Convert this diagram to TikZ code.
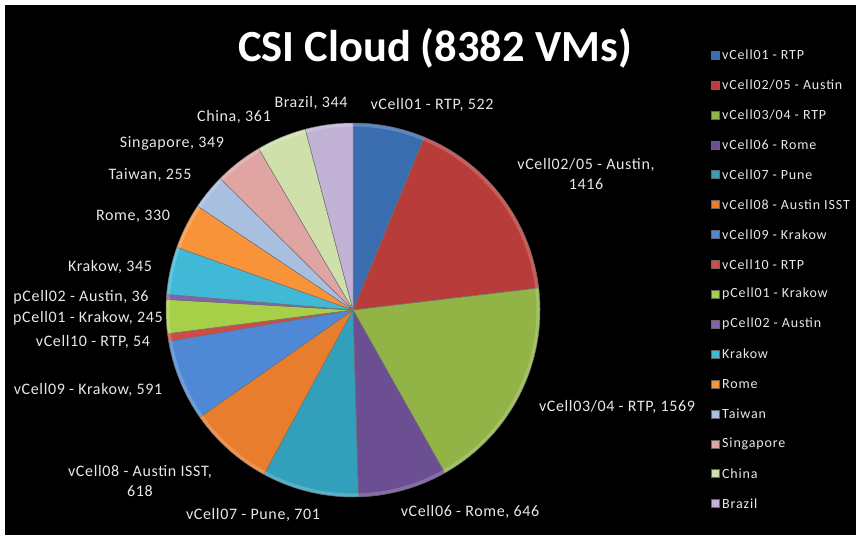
\documentclass[tikz,border=0pt]{standalone}
\usepackage{fontspec}
\setmainfont{Carlito}
\newfontfamily\lblfont[LetterSpace=4]{Carlito}
\newfontfamily\legfont[LetterSpace=6]{Carlito}
\definecolor{c1}{HTML}{3A6DAF}
\definecolor{c2}{HTML}{B83C3A}
\definecolor{c3}{HTML}{92B447}
\definecolor{c4}{HTML}{6C4E92}
\definecolor{c5}{HTML}{33A0BB}
\definecolor{c6}{HTML}{E87D2E}
\definecolor{c7}{HTML}{4F88D4}
\definecolor{c8}{HTML}{D24A48}
\definecolor{c9}{HTML}{A7D048}
\definecolor{c10}{HTML}{8363AB}
\definecolor{c11}{HTML}{40B8D6}
\definecolor{c12}{HTML}{F9933A}
\definecolor{c13}{HTML}{A8BFE0}
\definecolor{c14}{HTML}{E0A4A2}
\definecolor{c15}{HTML}{CFE0AA}
\definecolor{c16}{HTML}{C2B3D6}
\definecolor{lbltext}{HTML}{E8E8E8}
\begin{document}
\begin{tikzpicture}[x=1pt,y=-1pt,
  lbl/.style={text=lbltext, font=\lblfont\fontsize{16}{20}\selectfont, inner sep=0pt, align=center},
  leg/.style={text=lbltext, font=\legfont\fontsize{14}{16}\selectfont, anchor=west, inner sep=0pt},
  legbox/.style={minimum size=8pt, inner sep=0pt, draw=black!60, line width=0.3pt},
  slice/.style={draw=black!55, line width=0.5pt, line join=round}]
\useasboundingbox (0,0) rectangle (856,535);
\fill[white] (0,0) rectangle (856,535);
\fill[black] (5,5) rectangle (856,535);
% pie
\coordinate (ctr) at (353,310);
\foreach \a/\b/\c in {90/67.580/c1, 67.580/6.764/c2, 6.764/-60.623/c3, -60.623/-88.368/c4,
  -88.368/-118.476/c5, -118.476/-145.018/c6, -145.018/-170.399/c7, -170.399/-172.719/c8,
  -172.719/-183.241/c9, -183.241/-184.787/c10, -184.787/-199.605/c11, -199.605/-213.777/c12,
  -213.777/-224.729/c13, -224.729/-239.719/c14, -239.719/-255.223/c15, -255.223/-270/c16}
{
  \filldraw[slice, fill=\c] (ctr) -- ++(\a:187pt) arc[start angle=\a, end angle=\b, radius=187pt] -- cycle;
}
\draw[white, opacity=0.18, line width=3pt] (ctr) circle[radius=185pt];
% title
\node[text=white, font=\fontsize{44.5}{48}\selectfont\bfseries, anchor=base, inner sep=0pt] (title) at (435,61) {CSI Cloud (8382 VMs)};
% labels
\node[lbl] (l1) at (432,105) {vCell01 - RTP, 522};
\node[lbl] (l2) at (586,174) {vCell02/05 - Austin,\\1416};
\node[lbl] (l3) at (617,407) {vCell03/04 - RTP, 1569};
\node[lbl] (l4) at (470,512) {vCell06 - Rome, 646};
\node[lbl] (l5) at (253,515) {vCell07 - Pune, 701};
\node[lbl] (l6) at (140,481) {vCell08 - Austin ISST,\\618};
\node[lbl] (l7) at (88,390) {vCell09 - Krakow, 591};
\node[lbl] (l8) at (93,342) {vCell10 - RTP, 54};
\node[lbl] (l9) at (88,318) {pCell01 - Krakow, 245};
\node[lbl] (l10) at (81,297) {pCell02 - Austin, 36};
\node[lbl] (l11) at (110,267) {Krakow, 345};
\node[lbl] (l12) at (133,216) {Rome, 330};
\node[lbl] (l13) at (150,175) {Taiwan, 255};
\node[lbl] (l14) at (172,143) {Singapore, 349};
\node[lbl] (l15) at (234,117) {China, 361};
\node[lbl] (l16) at (311,103) {Brazil, 344};
% legend
\foreach \i/\c/\t in {0/c1/{vCell01 - RTP}, 1/c2/{vCell02/05 - Austin}, 2/c3/{vCell03/04 - RTP},
  3/c4/{vCell06 - Rome}, 4/c5/{vCell07 - Pune}, 5/c6/{vCell08 - Austin ISST}, 6/c7/{vCell09 - Krakow},
  7/c8/{vCell10 - RTP}, 8/c9/{pCell01 - Krakow}, 9/c10/{pCell02 - Austin}, 10/c11/{Krakow},
  11/c12/{Rome}, 12/c13/{Taiwan}, 13/c14/{Singapore}, 14/c15/{China}, 15/c16/{Brazil}}
{
  \node[legbox, fill=\c] (lb\i) at (715,55+29.9*\i) {};
  \node[leg] (lt\i) at (722,55+29.9*\i) {\t};
}
\end{tikzpicture}
\end{document}
